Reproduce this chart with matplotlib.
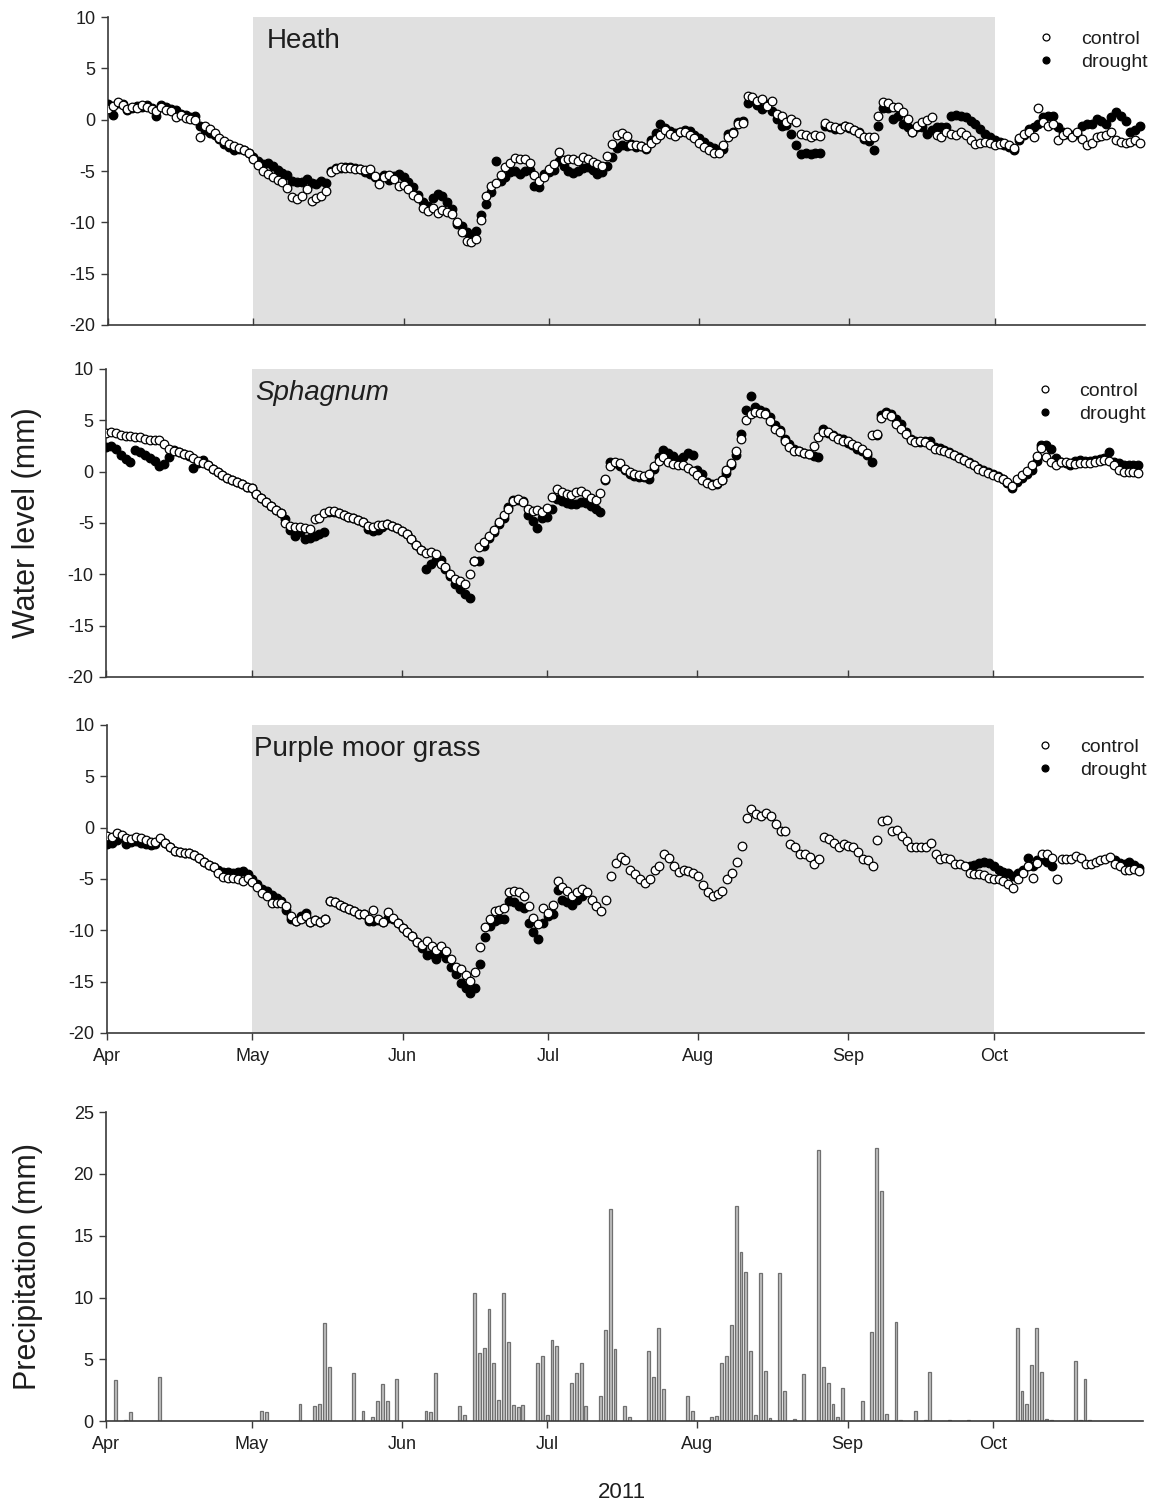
import numpy as np
import pandas as pd
import matplotlib
matplotlib.use('Agg')
import matplotlib.pyplot as plt
import matplotlib.dates as mdates

plt.rcParams['font.family'] = ['Liberation Sans', 'DejaVu Sans']
plt.rcParams['axes.unicode_minus'] = False

nan = np.nan

# daily water level (mm), 1 Apr - 31 Oct 2011
heath_control = [
    1.0, 1.3, 1.7, 1.4, 1.0, 1.2, 1.1, 1.4, 1.2, 1.0,
    0.8, 1.2, 0.9, 0.8, 0.3, 0.5, 0.2, 0.1, 0.0, -1.7,
    -0.6, -0.9, -1.3, -1.8, -2.1, -2.4, -2.6, -2.8, -3.0, -3.2,
    -3.8, -4.4, -5.0, -5.3, -5.6, -5.9, -6.1, -6.7, -7.5, -7.7,
    -7.4, -6.8, -7.9, -7.6, -7.4, -6.9, -5.1, -4.8, -4.6, -4.7,
    -4.7, -4.8, -4.8, -4.9, -4.8, -5.5, -6.3, -5.6, -5.4, -5.8,
    -6.5, -6.4, -6.8, -7.3, -7.6, -8.6, -8.9, -8.6, -9.1, -8.8,
    -9.0, -9.2, -10.0, -10.9, -11.8, -11.9, -11.6, -9.8, -7.4, -6.5,
    -6.2, -5.4, -4.6, -4.2, -3.7, -3.8, -3.8, -4.2, -5.4, -6.0,
    -5.6, -4.8, -4.3, -3.1, -3.9, -3.8, -3.8, -4.0, -3.6, -3.8,
    -4.1, -4.3, -4.5, -3.5, -2.4, -1.5, -1.3, -1.6, -2.5, -2.5,
    -2.6, -2.8, -2.3, -1.9, -1.5, -1.0, -1.4, -1.6, -1.2, -1.2,
    -1.5, -1.8, -2.3, -2.7, -3.0, -3.2, -3.2, -2.5, -1.7, -1.3,
    -0.4, -0.3, 2.3, 2.2, 1.8, 2.0, 1.3, 1.8, 0.6, 0.4,
    -0.2, 0.1, -0.2, -1.4, -1.5, -1.7, -1.5, -1.6, -0.3, -0.6,
    -0.7, -0.9, -0.6, -0.7, -1.0, -1.3, -1.7, -1.7, -1.7, 0.4,
    1.7, 1.6, 1.2, 1.2, 0.7, 0.1, -1.2, -0.6, -0.2, 0.0,
    0.3, -1.5, -1.7, -1.2, -1.4, -1.5, -1.2, -1.5, -2.0, -2.4,
    -2.3, -2.2, -2.3, -2.5, -2.4, -2.3, -2.5, -2.8, -1.8, -1.4,
    -1.2, -1.7, 1.1, -0.2, -0.6, -0.4, -2.0, -1.5, -1.2, -1.7,
    -1.2, -1.9, -2.5, -2.3, -1.7, -1.6, -1.5, -1.2, -2.0, -2.2,
    -2.3, -2.2, -2.0, -2.3,
]
heath_drought = [
    1.5, 0.5, 1.6, 1.5, 0.9, 1.1, 1.3, 1.2, 1.4, 1.1,
    0.4, 1.4, 1.2, 1.0, 0.9, 0.6, 0.5, 0.3, 0.4, -0.6,
    -1.0, -1.3, -1.5, -1.9, -2.4, -2.7, -3.0, -2.9, -3.0, -3.2,
    -3.6, -4.0, -4.3, -4.2, -4.5, -4.9, -5.2, -5.4, -6.0, -6.1,
    -6.1, -5.8, -6.2, -6.3, -6.0, -6.2, -5.0, -4.7, -4.7, -4.6,
    -4.6, -4.7, -4.8, -5.1, -5.3, -5.6, -5.7, -5.4, -5.9, -5.5,
    -5.3, -5.6, -6.1, -6.6, -7.3, -8.0, -8.4, -7.6, -7.2, -7.4,
    -8.0, -8.7, -10.2, -10.4, -10.9, -11.3, -10.8, -9.3, -8.2, -7.0,
    -4.0, -6.0, -5.6, -5.1, -5.0, -5.3, -5.0, -4.9, -6.5, -6.6,
    -5.3, -5.1, -4.9, -4.0, -4.5, -5.0, -5.2, -5.0, -4.7, -4.6,
    -4.9, -5.3, -5.1, -4.5, -3.6, -2.8, -2.5, -2.6, -2.4, -2.7,
    -2.6, -2.9, -2.0, -1.3, -0.4, -0.8, -1.1, -1.3, -1.2, -1.0,
    -1.1, -1.5, -1.8, -2.2, -2.6, -2.8, -3.0, -2.9, -1.4, -1.2,
    -0.2, -0.1, 1.6, 1.9, 1.4, 1.0, 1.5, 0.8, 0.1, -0.6,
    -0.5, -1.4, -2.5, -3.3, -3.2, -3.3, -3.2, -3.2, -0.6, -0.7,
    -0.9, -0.8, -0.6, -0.8, -1.0, -1.2, -1.9, -2.1, -3.0, -0.6,
    1.1, 1.1, 0.1, 0.4, -0.4, -0.7, -1.2, -0.7, -0.7, -1.4,
    -1.0, -0.7, -0.7, -0.7, 0.4, 0.5, 0.4, 0.3, -0.1, -0.4,
    -0.9, -1.4, -1.7, -2.0, -2.2, -2.5, -2.7, -3.0, -2.0, -1.5,
    -0.9, -0.7, -0.4, 0.3, 0.4, 0.4, -0.7, -1.2, -1.4, -1.5,
    -1.4, -0.6, -0.4, -0.4, 0.1, -0.1, -0.4, 0.3, 0.7, 0.4,
    -0.1, -1.2, -1.0, -0.6,
]
sphagnum_control = [
    3.8, 3.9, 3.8, 3.6, 3.5, 3.5, 3.4, 3.4, 3.2, 3.1,
    3.1, 3.1, 2.7, 2.2, 2.0, 1.9, 1.7, 1.6, 1.3, 1.0,
    0.8, 0.6, 0.3, 0.0, -0.3, -0.6, -0.8, -1.0, -1.2, -1.5,
    -1.6, -2.2, -2.6, -3.0, -3.3, -3.7, -4.0, -5.0, -5.3, -5.4,
    -5.4, -5.5, -5.6, -4.6, -4.5, -4.0, -3.8, -3.8, -4.0, -4.2,
    -4.4, -4.5, -4.7, -4.9, -5.3, -5.4, -5.2, -5.2, -5.1, -5.3,
    -5.5, -5.8, -6.1, -6.6, -7.1, -7.6, -7.9, -7.8, -8.0, -9.0,
    -9.3, -10.0, -10.5, -10.7, -10.9, -10.0, -8.7, -7.3, -6.9, -6.3,
    -5.7, -4.9, -4.2, -3.6, -2.9, -2.7, -3.0, -3.6, -3.8, -3.7,
    -3.9, -3.5, -2.5, -1.7, -2.0, -2.2, -2.3, -2.0, -1.9, -2.2,
    -2.6, -2.8, -2.1, -0.7, 0.5, 0.9, 0.8, 0.3, 0.0, -0.2,
    -0.3, -0.4, -0.2, 0.5, 1.0, 1.4, 0.9, 0.7, 0.6, 0.6,
    0.4, 0.1, -0.3, -0.8, -1.1, -1.3, -1.1, -0.8, 0.2, 0.8,
    2.0, 3.2, 5.0, 5.6, 5.8, 5.7, 5.6, 4.9, 4.2, 3.9,
    3.0, 2.4, 2.0, 2.0, 1.8, 1.7, 2.5, 3.4, 3.9, 3.9,
    3.5, 3.2, 3.0, 3.0, 2.7, 2.5, 2.2, 1.8, 3.6, 3.7,
    5.2, 5.6, 5.4, 4.6, 4.2, 3.7, 3.1, 2.9, 3.0, 2.9,
    2.6, 2.2, 2.1, 2.0, 1.8, 1.6, 1.3, 1.1, 0.8, 0.6,
    0.3, 0.1, -0.1, -0.3, -0.5, -0.7, -1.0, -1.4, -0.7, -0.3,
    0.1, 0.6, 1.5, 2.3, 1.4, 0.9, 0.6, 0.9, 0.9, 0.8,
    0.7, 0.8, 0.8, 0.8, 0.9, 1.0, 1.1, 1.0, 0.6, 0.2,
    0.0, 0.0, 0.0, -0.1,
]
sphagnum_drought = [
    2.4, 2.5, 2.2, 1.6, 1.2, 0.9, 2.1, 1.9, 1.6, 1.3,
    1.0, 0.5, 0.7, 1.4, 2.1, 1.9, 1.7, 1.5, 0.4, 0.8,
    1.1, 0.6, 0.3, 0.0, -0.3, -0.6, -0.8, -1.0, -1.2, -1.5,
    -1.6, -2.2, -2.6, -3.0, -3.3, -3.7, -4.0, -4.6, -5.7, -6.3,
    -5.9, -6.6, -6.5, -6.3, -6.1, -5.9, -3.9, -3.9, -4.0, -4.2,
    -4.4, -4.5, -4.7, -4.9, -5.6, -5.8, -5.7, -5.4, -5.1, -5.3,
    -5.5, -5.8, -6.1, -6.6, -7.1, -7.6, -9.5, -9.0, -8.6, -8.6,
    -9.5, -10.2, -10.9, -11.4, -11.9, -12.3, -8.7, -8.7, -7.2, -6.5,
    -5.9, -5.1, -4.5, -3.4, -2.8, -2.8, -2.9, -4.2, -4.8, -5.5,
    -4.5, -4.4, -3.6, -2.7, -2.9, -3.1, -3.2, -3.2, -3.0, -3.1,
    -3.3, -3.6, -3.9, -0.8, 0.9, 0.8, 0.5, 0.2, -0.2, -0.4,
    -0.5, -0.5, -0.7, 0.3, 1.4, 2.1, 1.8, 1.5, 1.1, 1.4,
    1.8, 1.6, 0.2, -0.2, -1.0, -1.2, -1.2, -0.8, -0.1, 0.6,
    1.6, 3.7, 6.0, 7.4, 6.3, 6.0, 5.8, 5.3, 4.5, 4.1,
    3.2, 2.7, 2.2, 2.0, 1.8, 1.7, 1.5, 1.4, 4.2, 3.8,
    3.6, 3.3, 3.2, 2.8, 2.6, 2.2, 2.0, 1.6, 0.9, 3.6,
    5.5, 5.8, 5.6, 5.1, 4.6, 3.9, 3.2, 3.0, 2.9, 3.0,
    3.0, 2.4, 2.3, 2.1, 1.9, 1.6, 1.4, 1.1, 0.9, 0.6,
    0.4, 0.2, 0.0, -0.2, -0.4, -0.7, -1.1, -1.6, -1.0, -0.6,
    -0.2, 0.2, 1.0, 2.6, 2.6, 2.2, 1.3, 0.9, 0.8, 0.6,
    1.0, 1.1, 1.0, 1.0, 1.1, 1.2, 1.3, 1.9, 0.9, 0.8,
    0.6, 0.6, 0.6, 0.6,
]
moorgrass_control = [
    -0.8, -0.9, -0.5, -0.7, -1.0, -1.1, -0.9, -1.0, -1.2, -1.4,
    -1.4, -1.0, -1.5, -1.9, -2.3, -2.4, -2.5, -2.5, -2.7, -3.0,
    -3.3, -3.6, -3.8, -4.4, -4.8, -4.9, -4.9, -5.0, -5.2, -4.9,
    -5.3, -5.8, -6.4, -6.7, -7.3, -7.3, -7.3, -7.6, -8.6, -9.1,
    -8.9, -8.6, -9.2, -9.0, -9.2, -8.9, -7.1, -7.2, -7.5, -7.7,
    -7.9, -8.1, -8.4, -8.4, -8.9, -8.0, -8.9, -9.2, -8.2, -8.8,
    -9.3, -9.8, -10.2, -10.6, -11.1, -11.4, -11.0, -11.5, -11.9, -11.5,
    -12.0, -12.8, -13.6, -13.8, -14.4, -14.9, -14.1, -11.6, -9.7, -8.9,
    -8.1, -8.0, -7.8, -6.3, -6.2, -6.3, -6.7, -7.6, -8.8, -9.4,
    -7.8, -8.3, -7.5, -5.2, -5.8, -6.2, -6.7, -6.3, -6.0, -6.3,
    -7.0, -7.6, -8.1, -7.0, -4.7, -3.4, -2.9, -3.2, -4.1, -4.5,
    -5.0, -5.4, -5.0, -4.1, -3.7, -2.6, -3.0, -3.7, -4.3, -4.1,
    -4.2, -4.4, -4.7, -5.6, -6.3, -6.7, -6.5, -6.2, -5.0, -4.4,
    -3.3, -1.8, 0.9, 1.8, 1.3, 1.1, 1.4, 1.1, 0.4, -0.3,
    -0.3, -1.6, -1.9, -2.6, -2.6, -2.9, -3.5, -3.1, -0.9, -1.1,
    -1.5, -1.9, -1.6, -1.8, -1.9, -2.4, -3.1, -3.2, -3.7, -1.2,
    0.6, 0.7, -0.3, -0.2, -0.8, -1.3, -1.9, -1.9, -1.9, -1.9,
    -1.5, -2.6, -3.1, -3.0, -3.1, -3.5, -3.5, -3.7, -4.4, -4.5,
    -4.5, -4.6, -4.9, -5.0, -5.0, -5.2, -5.5, -5.9, -5.0, -4.4,
    -3.7, -4.9, -3.4, -2.6, -2.6, -3.0, -5.0, -3.1, -3.1, -3.1,
    -2.8, -3.0, -3.5, -3.5, -3.3, -3.2, -3.1, -2.9, -3.5, -3.7,
    -4.1, -4.1, -4.0, -4.2,
]
moorgrass_drought = [
    -1.6, -1.5, -1.2, -0.9, -1.6, -1.4, -1.3, -1.5, -1.6, -1.7,
    -1.6, -1.1, -1.5, -1.9, -2.3, -2.4, -2.5, -2.5, -2.7, -3.0,
    -3.3, -3.6, -3.8, -4.1, -4.3, -4.3, -4.4, -4.3, -4.2, -4.5,
    -5.0, -5.5, -6.0, -6.2, -6.6, -6.9, -7.1, -8.0, -8.9, -9.1,
    -8.6, -8.3, -9.2, -9.0, -9.2, -8.9, -7.1, -7.2, -7.5, -7.7,
    -7.9, -8.1, -8.4, -8.4, -9.1, -9.1, -9.0, -9.2, -8.8, -8.9,
    -9.3, -9.8, -10.2, -10.6, -11.1, -11.7, -12.4, -12.3, -12.8, -12.2,
    -12.7, -13.6, -14.3, -15.1, -15.6, -16.1, -15.6, -13.3, -10.7, -9.6,
    -9.1, -8.9, -8.9, -7.1, -7.2, -7.6, -7.8, -9.3, -10.2, -10.8,
    -9.3, -8.6, -8.4, -6.1, -7.0, -7.2, -7.5, -7.0, -6.7, nan,
    nan, nan, nan, nan, nan, nan, nan, nan, nan, nan,
    nan, nan, nan, nan, nan, nan, nan, nan, nan, nan,
    nan, nan, nan, nan, nan, nan, nan, nan, nan, nan,
    nan, nan, nan, nan, nan, nan, nan, nan, nan, nan,
    nan, nan, nan, nan, nan, nan, nan, nan, nan, nan,
    nan, nan, nan, nan, nan, nan, nan, nan, nan, nan,
    nan, nan, nan, nan, nan, nan, nan, nan, nan, nan,
    nan, nan, nan, nan, nan, nan, nan, nan, -3.7, -3.6,
    -3.4, -3.3, -3.4, -3.7, -4.1, -4.3, -4.4, -4.7, -4.4, -4.1,
    -3.0, -3.7, -3.2, -3.1, -3.3, -3.7, nan, nan, nan, nan,
    nan, nan, nan, nan, nan, nan, nan, nan, -3.2, -3.4,
    -3.5, -3.3, -3.6, -3.9,
]

# daily precipitation (mm), days counted from 1 Apr
rain_day = [2, 4, 5, 11, 32, 33, 40, 43, 44, 45, 46,
            51, 53, 55, 56, 57, 58, 60, 66, 67, 68, 73, 74,
            76, 77, 78, 79, 80, 81, 82, 83, 84, 85, 86,
            89, 90, 91, 92, 93, 96, 97, 98, 99,
            102, 103, 104, 105, 107, 108, 112, 113, 114, 115, 120, 121,
            125, 126, 127, 128, 129, 130, 131, 132, 133, 134, 135, 136, 137,
            139, 140, 142, 144, 147, 148, 149, 150, 151, 152,
            156, 158, 159, 160, 161, 163, 164, 167, 169, 170, 174, 178,
            188, 189, 190, 191, 192, 193, 194, 195, 200, 201, 202, 203]
rain_mm = [3.3, 0.1, 0.7, 3.6, 0.8, 0.7, 1.4, 1.2, 1.4, 7.9, 4.4,
           3.9, 0.8, 0.35, 1.6, 3.0, 1.6, 3.4, 0.8, 0.75, 3.9, 1.2, 0.5,
           10.4, 5.5, 5.9, 9.1, 4.7, 1.7, 10.4, 6.4, 1.3, 1.1, 1.3,
           4.7, 5.3, 0.5, 6.6, 6.1, 3.1, 3.9, 4.7, 1.2,
           2.0, 7.4, 17.2, 5.8, 1.2, 0.35, 5.7, 3.6, 7.5, 2.6, 2.05, 0.8,
           0.3, 0.4, 4.7, 5.3, 7.8, 17.4, 13.7, 12.1, 5.7, 0.5, 12.0, 4.05, 0.25,
           12.0, 2.4, 0.2, 3.8, 21.9, 4.4, 3.1, 1.4, 0.35, 2.65,
           1.6, 7.2, 22.1, 18.6, 0.6, 8.0, 0.1, 0.85, 0.05, 3.95, 0.05, 0.05,
           7.5, 2.4, 1.4, 4.5, 7.5, 4.0, 0.2, 0.05, 4.85, 0.1, 3.4, 0.1]

panel_names = ['Heath', 'Sphagnum', 'Purple moor grass']

days = pd.date_range('2011-04-01', '2011-10-31', freq='D')
rain_dates = days[0] + pd.to_timedelta(rain_day, unit='D')
month_ticks = pd.date_range('2011-04-01', '2011-10-01', freq='MS')
x_start = pd.Timestamp('2011-04-01')
x_end = pd.Timestamp('2011-11-01')
treat_start = pd.Timestamp('2011-05-01')
treat_end = pd.Timestamp('2011-10-01')

AX_COL = '#3a3a3a'
TXT_COL = '#1e1e1e'


def style_axis(ax, xdir):
    for side in ['top', 'right']:
        ax.spines[side].set_visible(False)
    for side in ['left', 'bottom']:
        ax.spines[side].set_color(AX_COL)
        ax.spines[side].set_linewidth(1.2)
    ax.tick_params(axis='y', direction='out', length=5, width=1.0,
                   color=AX_COL, labelsize=13, labelcolor=TXT_COL, pad=4)
    ax.tick_params(axis='x', direction=xdir, length=5, width=1.0,
                   color=AX_COL, labelsize=13, labelcolor=TXT_COL, pad=6)
    ax.set_xticks(month_ticks)
    ax.xaxis.set_major_formatter(mdates.DateFormatter('%b'))
    ax.set_xlim(x_start, x_end)


fig = plt.figure(figsize=(11.54, 15.06), dpi=100)

series = [
    (heath_control, heath_drought),
    (sphagnum_control, sphagnum_drought),
    (moorgrass_control, moorgrass_drought),
]
bottoms = [0.7842, 0.5505, 0.3141]
lefts = [0.0936, 0.0920, 0.0927]
title_x = [0.153, 0.144, 0.142]

for i, ((ctrl, drgt), name) in enumerate(zip(series, panel_names)):
    ax = fig.add_axes([lefts[i], bottoms[i], 0.8986, 0.2045])
    style_axis(ax, 'out' if i == 2 else 'in')
    ax.axvspan(treat_start, treat_end, color='#e0e0e0', lw=0, zorder=0)
    hd, = ax.plot(days, drgt, 'o', ls='none', ms=6.2, mfc='black', mec='black',
                  mew=0.9, zorder=3)
    hc, = ax.plot(days, ctrl, 'o', ls='none', ms=6.2, mfc='white', mec='black',
                  mew=0.9, zorder=4)
    ax.set_ylim(-20, 10)
    ax.set_yticks(range(-20, 11, 5))
    if i < 2:
        ax.set_xticklabels([])
    style = 'italic' if name == 'Sphagnum' else 'normal'
    ax.text(title_x[i], 0.965, name, transform=ax.transAxes, fontsize=20,
            style=style, color=TXT_COL, va='top', ha='left')
    ax.legend([hc, hd], ['control', 'drought'], loc='upper right',
              bbox_to_anchor=(1.016, 1.0), frameon=False, fontsize=14,
              handlelength=1.0, handletextpad=1.3, labelspacing=0.25,
              borderaxespad=0.3, markerscale=0.8, labelcolor=TXT_COL)
    if i == 1:
        ax.set_ylabel('Water level (mm)', fontsize=22, color=TXT_COL)
        ax.yaxis.set_label_coords(-0.062, 0.5)

# precipitation panel
axp = fig.add_axes([0.0920, 0.0564, 0.8986, 0.2051])
style_axis(axp, 'out')
axp.bar(rain_dates, rain_mm, width=0.6, color='#c0c0c0', edgecolor='#707070',
        linewidth=0.9, zorder=2)
axp.set_ylim(0, 25)
axp.set_yticks(range(0, 26, 5))
axp.set_ylabel('Precipitation (mm)', fontsize=22, color=TXT_COL)
axp.yaxis.set_label_coords(-0.061, 0.5)

fig.text(622 / 1154, 1 - 1492 / 1506, '2011', ha='center', va='center',
         fontsize=16, color=TXT_COL)

fig.savefig('out.png', dpi=100)
